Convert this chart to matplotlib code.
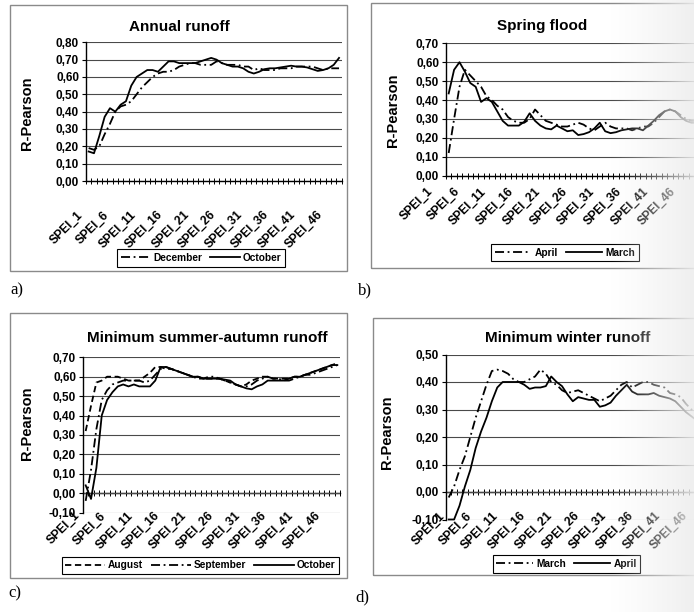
import numpy as np
import matplotlib.pyplot as plt
from matplotlib.patches import Rectangle
from matplotlib.ticker import FuncFormatter
from matplotlib.transforms import ScaledTranslation

plt.rcParams['font.family'] = ['Liberation Sans', 'DejaVu Sans']
plt.rcParams['font.weight'] = 'bold'

spei = [f"SPEI_{k}" for k in range(1, 49)]

# a) annual runoff
annual_dec = [0.19, 0.18, 0.20, 0.27, 0.33, 0.40, 0.43, 0.44, 0.46, 0.50,
              0.54, 0.57, 0.60, 0.62, 0.63, 0.63, 0.64, 0.66, 0.67, 0.68,
              0.68, 0.67, 0.67, 0.67, 0.69, 0.68, 0.67, 0.67, 0.67, 0.66,
              0.66, 0.64, 0.65, 0.64, 0.64, 0.64, 0.65, 0.65, 0.65, 0.66,
              0.66, 0.66, 0.66, 0.65, 0.64, 0.65, 0.65, 0.65]
annual_oct = [0.17, 0.16, 0.26, 0.37, 0.42, 0.40, 0.44, 0.46, 0.55, 0.60,
              0.62, 0.64, 0.64, 0.63, 0.66, 0.69, 0.69, 0.68, 0.68, 0.68,
              0.68, 0.69, 0.70, 0.71, 0.70, 0.68, 0.67, 0.66, 0.66, 0.65,
              0.63, 0.62, 0.63, 0.645, 0.65, 0.65, 0.655, 0.66, 0.665, 0.66,
              0.66, 0.655, 0.645, 0.635, 0.64, 0.65, 0.67, 0.71]

# b) spring flood
spring_apr = [0.12, 0.30, 0.47, 0.56, 0.53, 0.50, 0.47, 0.42, 0.40, 0.37,
              0.35, 0.31, 0.29, 0.28, 0.28, 0.30, 0.35, 0.32, 0.29, 0.28,
              0.27, 0.26, 0.26, 0.27, 0.28, 0.27, 0.25, 0.24, 0.26, 0.28,
              0.26, 0.25, 0.25, 0.25, 0.24, 0.25, 0.26, 0.26, 0.28, 0.31,
              0.34, 0.35, 0.34, 0.32, 0.30, 0.29, 0.29, 0.30]
spring_mar = [0.435, 0.56, 0.60, 0.55, 0.49, 0.47, 0.39, 0.41, 0.39, 0.34,
              0.29, 0.265, 0.265, 0.265, 0.285, 0.33, 0.29, 0.265, 0.25, 0.245,
              0.265, 0.25, 0.235, 0.24, 0.215, 0.22, 0.23, 0.25, 0.28, 0.235,
              0.225, 0.23, 0.24, 0.245, 0.25, 0.25, 0.24, 0.265, 0.29, 0.32,
              0.34, 0.35, 0.34, 0.31, 0.29, 0.28, 0.28, 0.29]

# c) minimum summer-autumn runoff
summer_aug = [0.32, 0.45, 0.57, 0.58, 0.60, 0.60, 0.60, 0.59, 0.58, 0.58,
              0.58, 0.60, 0.62, 0.65, 0.65, 0.64, 0.64, 0.63, 0.62, 0.61,
              0.60, 0.60, 0.59, 0.59, 0.59, 0.59, 0.58, 0.57, 0.56, 0.55,
              0.56, 0.58, 0.59, 0.60, 0.60, 0.59, 0.59, 0.59, 0.59, 0.60,
              0.60, 0.61, 0.62, 0.63, 0.64, 0.65, 0.66, 0.67]
summer_sep = [-0.04, 0.12, 0.33, 0.48, 0.53, 0.56, 0.57, 0.58, 0.58, 0.58,
              0.58, 0.57, 0.58, 0.61, 0.64, 0.65, 0.64, 0.63, 0.62, 0.61,
              0.60, 0.59, 0.59, 0.60, 0.60, 0.59, 0.58, 0.57, 0.56, 0.55,
              0.55, 0.56, 0.58, 0.59, 0.60, 0.59, 0.59, 0.58, 0.58, 0.59,
              0.60, 0.61, 0.61, 0.62, 0.63, 0.64, 0.65, 0.66]
summer_oct = [0.04, -0.03, 0.13, 0.40, 0.48, 0.52, 0.55, 0.56, 0.55, 0.56,
              0.55, 0.55, 0.55, 0.58, 0.65, 0.65, 0.64, 0.63, 0.62, 0.61,
              0.60, 0.60, 0.59, 0.59, 0.59, 0.59, 0.585, 0.58, 0.56, 0.55,
              0.54, 0.535, 0.55, 0.56, 0.58, 0.58, 0.58, 0.58, 0.59, 0.60,
              0.60, 0.61, 0.62, 0.63, 0.64, 0.65, 0.66, 0.66]

# d) minimum winter runoff
winter_mar = [-0.02, 0.02, 0.08, 0.13, 0.20, 0.27, 0.33, 0.39, 0.44, 0.445,
              0.44, 0.43, 0.41, 0.40, 0.40, 0.41, 0.42, 0.445, 0.43, 0.40,
              0.39, 0.37, 0.36, 0.365, 0.37, 0.36, 0.35, 0.34, 0.33, 0.34,
              0.35, 0.37, 0.39, 0.40, 0.38, 0.39, 0.40, 0.40, 0.39, 0.385,
              0.38, 0.36, 0.355, 0.345, 0.32, 0.30, 0.29, 0.28]
winter_apr = [-0.10, -0.10, -0.05, 0.02, 0.08, 0.16, 0.22, 0.27, 0.33, 0.38,
              0.40, 0.40, 0.40, 0.40, 0.39, 0.375, 0.38, 0.38, 0.385, 0.42,
              0.40, 0.385, 0.355, 0.33, 0.345, 0.34, 0.335, 0.335, 0.31, 0.315,
              0.325, 0.35, 0.37, 0.39, 0.365, 0.355, 0.355, 0.355, 0.36, 0.35,
              0.345, 0.34, 0.33, 0.31, 0.29, 0.275, 0.26, 0.25]

W, H = 694, 612
fig = plt.figure(figsize=(W / 100, H / 100), dpi=100)
x = np.arange(len(spei))

DASHDOT = (0, (5, 2, 1, 2))
DASHED = (0, (3.5, 2))


def px_axes(left, top, right, bottom):
    return fig.add_axes([left / W, 1 - bottom / H, (right - left) / W, (bottom - top) / H])


def px_text(px, py, s, **kw):
    fig.text(px / W, 1 - py / H, s, **kw)


def chart_box(left, top, right, bottom):
    fig.patches.append(Rectangle((left / W, 1 - bottom / H), (right - left) / W, (bottom - top) / H,
                                 transform=fig.transFigure, fill=False, ec='#8a8a8a', lw=1))


def setup(ax, ylo, yhi, label_pad, label_shift):
    ax.set_xlim(-0.5, len(spei) - 0.5)
    ax.set_ylim(ylo, yhi)
    ax.set_yticks(np.round(np.arange(ylo, yhi + 0.05, 0.1), 2))
    ax.yaxis.set_major_formatter(FuncFormatter(lambda v, _: f"{v:.2f}".replace('.', ',')))
    ax.grid(axis='y', color='#4a4a4a', lw=0.8)
    ax.set_axisbelow(True)
    for s in ('top', 'right', 'bottom'):
        ax.spines[s].set_visible(False)
    ax.spines['left'].set_linewidth(1)
    ax.tick_params(axis='y', length=3, width=0.8, labelsize=8.5, pad=2)
    ax.set_xticks(x[::5], [spei[i] for i in x[::5]], rotation=45, ha='right',
                  va='center', rotation_mode='anchor', fontsize=8.7)
    ax.tick_params(axis='x', length=0, pad=label_pad)
    for lab in ax.get_xticklabels():
        lab.set_transform(lab.get_transform() + ScaledTranslation(label_shift / 100, 0, fig.dpi_scale_trans))
    # category axis drawn through zero with cross tick marks between categories
    sec = ax.secondary_xaxis((0 - ylo) / (yhi - ylo))
    sec.set_xticks(np.arange(len(spei) + 1) - 0.5)
    sec.tick_params(direction='inout', length=4, width=0.7, labelbottom=False)
    sec.spines['bottom'].set_linewidth(1)


def legend(handles, cx, cy, hlen):
    leg = fig.legend(handles=handles, loc='center', bbox_to_anchor=(cx / W, 1 - cy / H),
                     ncol=len(handles), fontsize=7.3, frameon=True, fancybox=False,
                     edgecolor='black', framealpha=1, borderpad=0.35, handlelength=hlen,
                     handletextpad=0.3, columnspacing=0.8)
    leg.get_frame().set_linewidth(0.8)


lw = 1.3
TITLE = 11

# a) Annual runoff
chart_box(10, 5, 347, 271)
ax = px_axes(86, 42.3, 341.7, 181)
setup(ax, 0.0, 0.8, 23, -8)
l1, = ax.plot(x, annual_dec, color='black', lw=lw, ls=DASHDOT, label='December')
l2, = ax.plot(x, annual_oct, color='black', lw=lw, label='October')
px_text(179, 27, 'Annual runoff', ha='center', va='center', fontsize=TITLE)
px_text(27, 113, 'R-Pearson', ha='center', va='center', rotation=90, fontsize=10.5)
legend([l1, l2], 201, 258, 2.9)

# b) Spring flood
chart_box(371, 3, 720, 268)
ax = px_axes(446, 43.3, 705, 175.7)
setup(ax, 0.0, 0.7, 10, -18)
l1, = ax.plot(x, spring_apr, color='black', lw=lw, ls=DASHDOT, label='April')
l2, = ax.plot(x, spring_mar, color='black', lw=lw, label='March')
px_text(542.5, 26, 'Spring flood', ha='center', va='center', fontsize=TITLE)
px_text(393, 110, 'R-Pearson', ha='center', va='center', rotation=90, fontsize=10.5)
legend([l1, l2], 565, 252.5, 3.6)

# c) Minimum summer-autumn runoff
chart_box(10, 313, 347, 578)
ax = px_axes(83, 357.3, 340, 512.5)
setup(ax, -0.1, 0.7, 1, -8)
l1, = ax.plot(x, summer_aug, color='black', lw=lw, ls=DASHED, label='August')
l2, = ax.plot(x, summer_sep, color='black', lw=lw, ls=DASHDOT, label='September')
l3, = ax.plot(x, summer_oct, color='black', lw=lw, label='October')
px_text(207, 338, 'Minimum summer-autumn runoff', ha='center', va='center', fontsize=TITLE)
px_text(27, 423, 'R-Pearson', ha='center', va='center', rotation=90, fontsize=10.5)
legend([l1, l2, l3], 200.5, 565.5, 3.9)

# d) Minimum winter runoff
chart_box(373, 318, 720, 575)
ax = px_axes(446, 354.5, 705, 519.5)
setup(ax, -0.1, 0.5, -4, -6)
l1, = ax.plot(x, winter_mar, color='black', lw=lw, ls=DASHDOT, label='March')
l2, = ax.plot(x, winter_apr, color='black', lw=lw, label='April', clip_on=False)
px_text(568, 338, 'Minimum winter runoff', ha='center', va='center', fontsize=TITLE)
px_text(387, 432, 'R-Pearson', ha='center', va='center', rotation=90, fontsize=10.5)
legend([l1, l2], 566.5, 564, 3.6)

# panel letters
for px, py, s in [(17, 290, 'a)'), (365, 290, 'b)'), (15, 593, 'c)'), (362, 597, 'd)')]:
    px_text(px, py, s, ha='center', va='center', fontsize=12,
            family='Liberation Serif', fontweight='normal')

# faded right margin of the page
ov = fig.add_axes([0, 0, 1, 1], zorder=10)
ov.set_axis_off()
cols = np.arange(W)
alpha = 0.9 * np.clip((cols - 610) / 84, 0, 1) ** 1.2
img = np.ones((1, W, 4)) * 0.93
img[0, :, 3] = alpha
ov.imshow(img, aspect='auto', extent=(0, 1, 0, 1), interpolation='bilinear')
ov.set_xlim(0, 1)
ov.set_ylim(0, 1)

fig.savefig('out.png', dpi=100)
